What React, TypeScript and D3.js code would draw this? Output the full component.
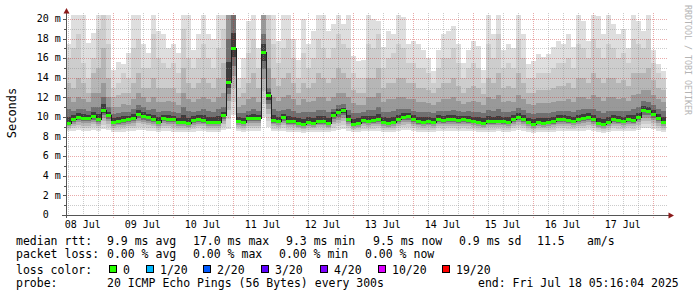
import React from 'react';
import * as d3 from 'd3';

// ---- data (2-hour steps, ms) ----
const END_TIME = Date.UTC(2025, 6, 18, 5, 16, 4);
const STEP_MS = 2 * 3600 * 1000;

const MEDIAN = [
  9.4, 9.8, 10.0, 9.9, 9.9, 10.1, 9.8, 10.7, 10.2, 9.5, 9.6, 9.7, 9.8, 9.9, 10.3, 10.1, 10.0, 9.8, 9.5, 9.9,
  9.8, 9.8, 9.5, 9.5, 9.4, 9.7, 9.8, 9.7, 9.5, 9.5, 9.5, 10.2, 13.6, 17.0, 9.6, 9.5, 9.9, 9.9, 9.9, 16.6,
  12.2, 9.7, 9.6, 10.0, 9.6, 9.6, 9.4, 9.3, 9.5, 9.4, 9.6, 9.6, 9.4, 10.2, 10.5, 10.7, 9.8, 9.3, 9.4, 9.7,
  9.6, 9.7, 9.8, 9.5, 9.4, 9.5, 9.8, 10.0, 10.1, 9.8, 9.6, 9.5, 9.6, 9.5, 9.8, 9.7, 9.8, 9.8, 9.7, 9.8,
  9.7, 9.6, 9.5, 9.4, 9.6, 9.6, 9.6, 9.6, 9.5, 9.8, 10.0, 9.8, 9.5, 9.3, 9.5, 9.4, 9.5, 9.6, 9.8, 9.8,
  9.7, 9.6, 9.8, 9.9, 10.0, 9.8, 9.4, 9.3, 9.5, 9.8, 9.7, 9.6, 9.8, 9.7, 10.0, 10.7, 10.6, 10.3, 9.9, 9.5,
];
const PING_MIN = [
  8.6, 8.6, 8.7, 8.6, 8.6, 8.7, 8.6, 8.8, 8.7, 8.5, 8.5, 8.5, 8.6, 8.6, 8.7, 8.7, 8.6, 8.6, 8.5, 8.6,
  8.6, 8.5, 8.5, 8.5, 8.5, 8.5, 8.6, 8.6, 8.5, 8.5, 8.5, 8.7, 8.8, 10.2, 8.6, 8.5, 8.6, 8.6, 8.6, 10.0,
  9.0, 8.6, 8.6, 8.6, 8.5, 8.5, 8.5, 8.4, 8.5, 8.5, 8.5, 8.5, 8.5, 8.6, 8.7, 8.8, 8.6, 8.5, 8.5, 8.6,
  8.6, 8.6, 8.6, 8.5, 8.5, 8.5, 8.6, 8.7, 8.7, 8.6, 8.5, 8.5, 8.5, 8.5, 8.6, 8.6, 8.6, 8.6, 8.6, 8.6,
  8.6, 8.6, 8.5, 8.5, 8.5, 8.5, 8.6, 8.5, 8.5, 8.6, 8.7, 8.6, 8.5, 8.4, 8.5, 8.5, 8.5, 8.5, 8.6, 8.6,
  8.6, 8.6, 8.6, 8.6, 8.7, 8.6, 8.5, 8.4, 8.5, 8.6, 8.6, 8.6, 8.6, 8.6, 8.7, 8.9, 8.9, 8.8, 8.6, 8.5,
];
const PING_MAX = [
  17.5, 20.5, 20.5, 20.5, 17.6, 18.6, 20.5, 20.5, 20.5, 14.8, 15.6, 15.4, 16.5, 20.5, 20.5, 17.5, 16.5, 20.5, 18.8, 18.5,
  17.0, 17.5, 16.5, 20.5, 20.5, 16.8, 18.5, 20.5, 18.5, 18.0, 20.5, 20.5, 20.5, 20.5, 14.0, 16.0, 19.8, 20.5, 17.0, 20.5,
  20.5, 20.5, 17.8, 20.5, 20.5, 18.0, 15.8, 20.0, 17.4, 18.8, 20.5, 20.5, 18.8, 19.5, 20.5, 19.5, 20.5, 16.2, 15.7, 15.8,
  20.5, 20.0, 19.8, 17.1, 18.8, 18.5, 20.5, 20.2, 17.4, 17.8, 17.4, 16.8, 16.0, 14.7, 16.8, 18.5, 18.8, 19.3, 17.4, 15.5,
  16.8, 17.8, 17.2, 14.8, 20.5, 18.5, 20.5, 16.8, 17.4, 17.0, 20.5, 18.5, 15.4, 15.7, 16.4, 16.1, 16.4, 17.1, 17.8, 17.5,
  18.5, 17.1, 20.5, 19.8, 17.8, 20.5, 20.3, 18.5, 20.5, 19.5, 18.5, 19.0, 17.0, 20.5, 19.8, 18.8, 20.5, 16.8, 15.4, 14.7,
];
const PING_P2 = [
  16.0, 17.0, 18.5, 15.5, 14.0, 16.0, 19.0, 20.5, 17.5, 13.0, 13.5, 14.5, 14.0, 17.0, 18.0, 15.0, 15.0, 18.5, 16.0, 15.5,
  15.0, 15.5, 14.5, 19.0, 16.0, 15.0, 16.0, 17.5, 16.0, 15.0, 17.0, 19.0, 20.5, 20.5, 13.0, 14.0, 16.5, 18.0, 15.0, 20.5,
  20.5, 17.5, 15.5, 17.0, 18.0, 16.0, 14.0, 16.5, 15.0, 16.0, 18.0, 17.0, 16.0, 17.0, 18.5, 17.5, 17.0, 14.5, 14.0, 14.0,
  17.5, 17.0, 18.5, 15.0, 16.0, 16.5, 17.5, 17.0, 15.5, 15.5, 15.0, 15.0, 14.5, 13.5, 15.0, 16.0, 16.0, 17.0, 15.5, 14.0,
  15.0, 15.5, 15.0, 13.5, 17.5, 16.0, 18.5, 15.0, 15.5, 15.0, 18.0, 16.0, 14.0, 14.0, 14.5, 14.5, 14.5, 15.0, 15.5, 15.5,
  16.0, 15.0, 17.5, 17.0, 16.0, 18.0, 17.0, 16.0, 17.5, 17.0, 16.0, 16.5, 15.5, 18.0, 17.5, 17.0, 18.0, 15.5, 14.5, 14.0,
];
const PING_P3 = [
  13.5, 13.0, 14.0, 13.5, 12.5, 14.5, 15.0, 17.0, 14.0, 12.0, 12.2, 12.5, 12.5, 13.5, 14.5, 13.0, 13.0, 14.0, 13.0, 13.0,
  13.0, 13.0, 12.5, 15.0, 13.5, 13.0, 13.5, 14.0, 13.5, 13.0, 14.0, 15.5, 20.5, 20.5, 12.0, 12.5, 13.5, 14.5, 13.0, 20.5,
  18.0, 14.0, 13.2, 14.0, 14.5, 13.5, 12.5, 13.5, 13.0, 13.5, 14.5, 14.0, 13.5, 14.0, 15.0, 14.5, 14.0, 12.8, 12.5, 12.5,
  14.0, 14.0, 15.0, 13.0, 13.5, 13.5, 14.0, 14.0, 13.5, 13.5, 13.0, 13.0, 12.8, 12.5, 13.0, 13.5, 13.5, 14.0, 13.2, 12.5,
  13.0, 13.2, 13.0, 12.3, 14.0, 13.5, 14.5, 13.0, 13.2, 13.0, 14.5, 13.5, 12.5, 12.5, 12.8, 12.8, 12.8, 13.0, 13.2, 13.2,
  13.5, 13.0, 14.0, 14.0, 13.5, 14.5, 14.0, 13.5, 14.0, 14.0, 13.5, 13.8, 13.2, 14.5, 14.5, 14.5, 15.0, 13.8, 13.0, 12.8,
];
const PING_P4 = [
  12.0, 11.5, 12.0, 11.8, 11.5, 12.5, 12.5, 13.5, 12.0, 11.0, 11.0, 11.3, 11.2, 11.8, 12.5, 12.0, 11.5, 12.0, 11.5, 11.5,
  11.6, 11.5, 11.2, 12.5, 11.8, 11.5, 11.8, 12.0, 11.8, 11.5, 12.0, 12.5, 20.5, 20.5, 11.0, 11.2, 11.8, 12.0, 11.5, 20.5,
  15.0, 12.0, 11.6, 12.0, 12.2, 11.8, 11.2, 11.8, 11.5, 11.6, 12.0, 12.0, 11.6, 12.0, 12.5, 12.5, 12.0, 11.4, 11.2, 11.2,
  12.0, 12.0, 12.5, 11.5, 11.8, 11.8, 12.0, 12.0, 11.8, 11.8, 11.5, 11.5, 11.4, 11.2, 11.5, 11.8, 11.8, 12.0, 11.6, 11.3,
  11.5, 11.6, 11.5, 11.2, 12.0, 11.8, 12.2, 11.5, 11.6, 11.5, 12.2, 11.8, 11.3, 11.2, 11.4, 11.4, 11.4, 11.5, 11.6, 11.6,
  11.8, 11.5, 12.0, 12.0, 11.8, 12.2, 12.0, 11.6, 12.0, 12.0, 11.8, 11.9, 11.6, 12.2, 12.3, 12.8, 12.8, 12.2, 11.8, 11.5,
];
const PING_P5 = [
  10.8, 10.6, 10.8, 10.8, 10.6, 11.0, 11.0, 12.0, 11.0, 10.3, 10.4, 10.5, 10.5, 10.8, 11.2, 11.0, 10.7, 10.8, 10.5, 10.6,
  10.6, 10.5, 10.4, 11.0, 10.6, 10.5, 10.6, 10.8, 10.6, 10.5, 10.8, 11.0, 18.0, 20.5, 10.4, 10.4, 10.6, 10.8, 10.6, 18.5,
  13.0, 10.8, 10.6, 10.7, 10.8, 10.6, 10.4, 10.5, 10.5, 10.5, 10.7, 10.7, 10.5, 10.8, 11.2, 11.3, 10.7, 10.4, 10.4, 10.5,
  10.7, 10.7, 11.0, 10.5, 10.5, 10.6, 10.8, 10.8, 10.8, 10.6, 10.5, 10.5, 10.5, 10.4, 10.6, 10.6, 10.6, 10.7, 10.6, 10.5,
  10.6, 10.5, 10.5, 10.4, 10.7, 10.6, 10.8, 10.5, 10.5, 10.6, 10.9, 10.7, 10.4, 10.3, 10.4, 10.4, 10.4, 10.5, 10.6, 10.6,
  10.6, 10.5, 10.7, 10.8, 10.8, 10.8, 10.6, 10.4, 10.6, 10.6, 10.6, 10.6, 10.6, 10.8, 11.0, 11.6, 11.5, 11.2, 10.8, 10.6,
];

const Y_TICKS = [0, 2, 4, 6, 8, 10, 12, 14, 16, 18, 20];
const Y_MINOR = [1, 3, 5, 7, 9, 11, 13, 15, 17, 19];

const LOSS_LABELS = ['0', '1/20', '2/20', '3/20', '4/20', '10/20', '19/20'];
const LOSS_COLORS = ['#26ff00', '#00b8ff', '#0059ff', '#5e00ff', '#7e00ff', '#dd00ff', '#ff0000'];
const LOSS_BOX_X = [109, 146, 203, 261, 320, 378, 442];

const RTT_ITEMS = [
  { x: 16, t: 'median rtt:' },
  { x: 107, t: '9.9 ms avg' },
  { x: 193, t: '17.0 ms max' },
  { x: 286, t: '9.3 ms min' },
  { x: 373, t: '9.5 ms now' },
  { x: 459, t: '0.9 ms sd' },
  { x: 537, t: '11.5' },
  { x: 587, t: 'am/s' },
];
const LOSS_ITEMS = [
  { x: 16, t: 'packet loss:' },
  { x: 107, t: '0.00 % avg' },
  { x: 193, t: '0.00 % max' },
  { x: 279, t: '0.00 % min' },
  { x: 365, t: '0.00 % now' },
];
const PROBE_ITEMS = [
  { x: 16, t: 'probe:' },
  { x: 107, t: '20 ICMP Echo Pings (56 Bytes) every 300s' },
  { x: 478, t: 'end: Fri Jul 18 05:16:04 2025' },
];

const MONO = '"DejaVu Sans Mono", monospace';

export default function App() {
  const N = MEDIAN.length;
  const start = END_TIME - N * STEP_MS;
  const tAt = (i: number) => new Date(start + i * STEP_MS);

  const X0 = 66, X1 = 666, YB = 215, YT = 15;
  const x = d3.scaleUtc().domain([new Date(start), new Date(END_TIME)]).range([X0, X1]);
  const y = d3.scaleLinear().domain([0, 20.41]).range([YB, YT]);

  const idx = d3.range(N + 1);
  const c = (i: number) => Math.min(i, N - 1);
  const lowAt = (i: number, f: number) => PING_MIN[c(i)] + (MEDIAN[c(i)] - PING_MIN[c(i)]) * f;

  const bands = [
    { color: '#dedede', lo: (i: number) => PING_MIN[c(i)], hi: (i: number) => PING_MAX[c(i)] },
    { color: '#cdcdcd', lo: (i: number) => lowAt(i, 0.2), hi: (i: number) => PING_P2[c(i)] },
    { color: '#b6b6b6', lo: (i: number) => lowAt(i, 0.4), hi: (i: number) => PING_P3[c(i)] },
    { color: '#999999', lo: (i: number) => lowAt(i, 0.58), hi: (i: number) => PING_P4[c(i)] },
    { color: '#707070', lo: (i: number) => lowAt(i, 0.74), hi: (i: number) => PING_P5[c(i)] },
    { color: '#3c3c3c', lo: (i: number) => lowAt(i, 0.87), hi: (i: number) => MEDIAN[c(i)] + (PING_P5[c(i)] - MEDIAN[c(i)]) * 0.45 },
  ];

  const areaPath = (b: typeof bands[0]) =>
    d3.area<number>()
      .x((i) => x(tAt(i)))
      .y0((i) => y(b.lo(i)))
      .y1((i) => y(b.hi(i)))
      .curve(d3.curveStepAfter)(idx) || '';

  const medLine = d3.line<number>()
    .x((i) => x(tAt(i)))
    .y((i) => Math.round(y(MEDIAN[c(i)])) + 0.5)
    .curve(d3.curveStepAfter)(idx) || '';

  const px = (v: number) => Math.round(v) + 0.5;

  const dayTicks = d3.utcDay.range(new Date(start), new Date(END_TIME));
  const sixH = d3.utcHour.every(6)!.range(new Date(start), new Date(END_TIME)).filter((d) => d.getUTCHours() !== 0);
  const labelDays = d3.utcDay.range(d3.utcDay.floor(new Date(start)), new Date(END_TIME))
    .map((d) => d3.utcHour.offset(d, 12))
    .filter((d) => x(d) > X0 && x(d) < X1);
  const fmt = d3.utcFormat('%d %b');

  const minorColor = 'rgba(140,140,140,0.45)';
  const majorColor = 'rgba(200,40,40,0.4)';
  const axisColor = '#555555';
  const arrowColor = '#8b1a1a';

  return (
    <svg width={697} height={297} style={{ position: 'absolute', left: 0, top: 0, display: 'block' }}
      xmlns="http://www.w3.org/2000/svg">
      <rect x={0} y={0} width={697} height={297} fill="#ffffff" />
      <defs>
        <clipPath id="plot">
          <rect x={X0} y={YT} width={X1 - X0} height={YB - YT} />
        </clipPath>
      </defs>

      <g clipPath="url(#plot)" shapeRendering="crispEdges">
        {bands.map((b, k) => (
          <path key={k} d={areaPath(b)} fill={b.color} />
        ))}
      </g>

      {/* grid */}
      <g strokeDasharray="1,1" strokeWidth={1} shapeRendering="crispEdges">
        {Y_MINOR.map((v) => (
          <line key={'hm' + v} x1={X0} x2={X1 + 1} y1={px(y(v))} y2={px(y(v))} stroke={minorColor} />
        ))}
        {sixH.map((d, k) => (
          <line key={'vm' + k} x1={px(x(d))} x2={px(x(d))} y1={YT - 2} y2={YB + 2} stroke={minorColor} />
        ))}
        {Y_TICKS.filter((v) => v > 0).map((v) => (
          <line key={'hM' + v} x1={X0} x2={X1 + 1} y1={px(y(v))} y2={px(y(v))} stroke={majorColor} />
        ))}
        {dayTicks.map((d, k) => (
          <line key={'vM' + k} x1={px(x(d))} x2={px(x(d))} y1={YT - 2} y2={YB + 3} stroke={majorColor} />
        ))}
      </g>

      {/* median */}
      <g clipPath="url(#plot)">
        <path d={medLine} fill="none" stroke="#202020" strokeWidth={1} shapeRendering="crispEdges" />
        {MEDIAN.map((m, i) => (
          <rect key={i} x={x(tAt(i))} y={Math.round(y(m)) - 1} width={x(tAt(i + 1)) - x(tAt(i))} height={3}
            fill={LOSS_COLORS[0]} shapeRendering="crispEdges" />
        ))}
      </g>

      {/* axes */}
      <g shapeRendering="crispEdges" stroke={axisColor}>
        <line x1={X0 + 0.5} x2={X0 + 0.5} y1={YB + 3} y2={11} />
        <line x1={62} x2={670} y1={YB + 0.5} y2={YB + 0.5} />
        {Y_TICKS.filter((v) => v > 0).map((v) => (
          <line key={'yt' + v} x1={63} x2={X0} y1={px(y(v))} y2={px(y(v))} />
        ))}
        {Y_MINOR.map((v) => (
          <line key={'ytm' + v} x1={64} x2={X0} y1={px(y(v))} y2={px(y(v))} />
        ))}
      </g>
      <path d={`M${X0 - 2.5},13.5 L${X0 + 3.5},13.5 L${X0 + 0.5},8 Z`} fill={arrowColor} />
      <path d={`M668.5,212.5 L668.5,218.5 L674,215.5 Z`} fill={arrowColor} />

      {/* axis labels */}
      <g fontFamily={MONO} fontSize={10} fill="#000">
        {Y_TICKS.map((v) => (
          <text key={'yl' + v} x={60.8} y={y(v) + 3.2} textAnchor="end" style={{ whiteSpace: 'pre' }}>
            {v === 0 ? '0  ' : `${v} m`}
          </text>
        ))}
        {labelDays.map((d, k) => (
          <text key={'xl' + k} x={x(d)} y={227.5} textAnchor="middle">{fmt(d)}</text>
        ))}
      </g>

      <text transform="translate(16,113) rotate(-90)" textAnchor="middle" fontFamily={MONO} fontSize={12} fill="#000">
        Seconds
      </text>
      <text transform="translate(684.5,5) rotate(90)" fontFamily={MONO} fontSize={8.3} fill="#b4b4b4">
        RRDTOOL / TOBI OETIKER
      </text>

      {/* legend */}
      <g fontFamily={MONO} fontSize={11.5} fill="#000" style={{ whiteSpace: 'pre' }}>
        {RTT_ITEMS.map((it, k) => (
          <text key={'r' + k} x={it.x} y={245}>{it.t}</text>
        ))}
        {LOSS_ITEMS.map((it, k) => (
          <text key={'l' + k} x={it.x} y={258.3}>{it.t}</text>
        ))}
        <text x={16} y={273.5}>loss color:</text>
        {LOSS_LABELS.map((lab, k) => (
          <g key={'lc' + k}>
            <rect x={LOSS_BOX_X[k] + 0.5} y={265.5} width={7} height={7} fill={LOSS_COLORS[k]} stroke="#000" strokeWidth={1} shapeRendering="crispEdges" />
            <text x={LOSS_BOX_X[k] + 14} y={273.5}>{lab}</text>
          </g>
        ))}
        {PROBE_ITEMS.map((it, k) => (
          <text key={'p' + k} x={it.x} y={286.7}>{it.t}</text>
        ))}
      </g>
    </svg>
  );
}
